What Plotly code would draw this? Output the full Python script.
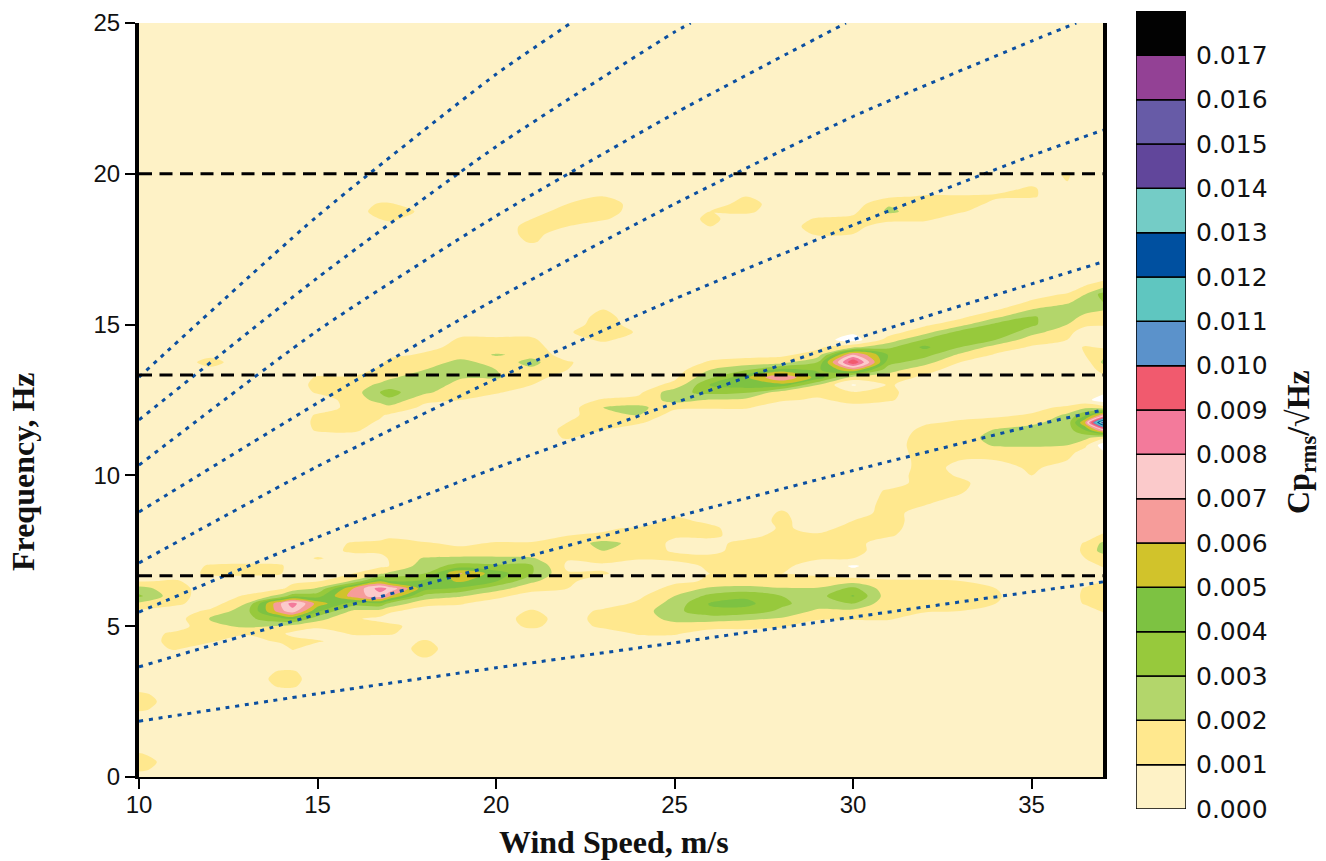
import plotly.graph_objects as go

# Frequency rows (Hz) and wind-speed columns (m/s) of the amplitude map
freq_rows = [i * 0.25 for i in range(85)] + [25.0]
background = 5  # amplitudes in units of 1e-4

# Readings per wind speed: (first frequency, values at 0.25 Hz spacing)
wind_cols = {
    10: [(0.25, [12, 15, 11]), (2.25, [12, 15, 12]), (5.5, [8, 18, 32, 24, 9])],
    11: [(4.25, [11, 13, 12]), (5.75, [12, 14, 14, 11])],
    12: [(4.5, [11, 14, 17, 21, 12]), (6.75, [12, 11]), (13.5, [8, 13, 8])],
    13: [(4.75, [11, 22, 27, 26, 20, 11]), (6.75, [12, 12])],
    14: [(3.0, [11, 13, 11]), (4.5, [12, 11, 19, 38, 68, 72, 24, 9]), (6.75, [10, 11])],
    14.3: [(3.0, [11, 13, 11]), (4.25, [11, 13, 8]), (5.0, [16, 42, 76, 85, 36, 13, 8])],
    15: [(4.5, [11]), (5.0, [12, 24, 42, 56, 36, 21, 9]), (7.25, [11]),
         (11.5, [11, 12, 11]), (12.75, [11, 13, 11])],
    16: [(4.75, [11, 12]), (5.25, [11, 18, 35, 65, 60, 21, 10]), (7.5, [12, 11]),
         (11.5, [12, 13, 12, 13, 14, 15, 15, 11])],
    16.75: [(4.75, [11, 13, 8]), (5.5, [16, 38, 75, 85, 48, 18, 8]), (7.5, [13, 13]),
            (11.75, [9, 11, 14, 24, 30, 22, 15, 12, 8]), (18.5, [10, 14, 11])],
    17: [(4.75, [11, 13]), (5.5, [12, 28, 62, 78, 40, 22, 10, 11, 14, 14, 8]),
         (12.0, [9, 17, 28, 34, 25, 18, 14, 12, 8]), (18.5, [12, 15, 11])],
    18: [(4.0, [11, 13, 11]), (5.75, [13, 27, 44, 42, 30, 25, 21, 11, 11]),
         (12.25, [8, 12, 22, 27, 26, 20, 13, 11, 8]), (18.75, [8])],
    19: [(5.75, [11, 21, 38, 52, 61, 34, 22, 13, 8]),
         (12.5, [10, 13, 16, 21, 25, 24, 14, 12, 11, 8])],
    20: [(6.0, [13, 24, 41, 45, 32, 22, 13, 11]),
         (12.75, [11, 14, 21, 20, 15, 21, 13, 11, 8])],
    21: [(5.0, [12, 14, 11]), (6.25, [14, 22, 31, 31, 21, 13, 11]),
         (13.0, [10, 14, 18, 23, 17, 13, 11, 8]), (17.75, [11, 13, 13, 10])],
    22: [(6.25, [10, 12, 11, 8, 11, 14, 13, 10]), (11.25, [11, 12, 10]),
         (13.5, [10, 11]), (14.75, [9]), (18.25, [10, 14, 15, 10])],
    23: [(5.0, [12, 14, 12]), (6.75, [11, 8, 14, 20, 24, 11, 9]),
         (11.5, [10, 14, 20, 20, 11]), (14.5, [12, 15, 15, 13, 10]),
         (18.5, [11, 15, 16, 10])],
    24: [(4.75, [11, 13, 15, 15, 12, 8]), (7.25, [11, 14, 16, 13, 11]),
         (11.75, [11, 20, 23, 13, 8]), (14.75, [9])],
    25: [(4.75, [11, 16, 23, 27, 24, 20, 13, 8]), (7.25, [13, 9, 8, 11, 13, 12, 8]),
         (12.25, [12, 24, 27, 13, 8])],
    26: [(5.0, [14, 24, 38, 41, 33, 22, 11, 10, 12, 12, 8, 8, 11, 12, 8]),
         (12.25, [11, 19, 33, 41, 28, 20, 11, 7]), (18.25, [10, 12, 10])],
    27: [(5.0, [13, 22, 36, 43, 38, 24, 12, 10, 13, 14, 13, 12, 8]),
         (12.25, [11, 17, 31, 46, 48, 29, 14, 7]), (18.75, [12, 14, 10])],
    28: [(5.0, [11, 19, 28, 32, 30, 21, 11, 10, 12, 13, 14, 13, 12, 11, 12, 11, 8]),
         (12.5, [11, 14, 46, 70, 44, 16, 8])],
    29: [(5.25, [11, 18, 25, 26, 21, 12, 9, 6, 11, 13, 13, 11, 8]),
         (12.5, [9, 12, 20, 46, 38, 30, 14, 8]), (18.0, [11, 14, 11])],
    30: [(5.25, [11, 17, 30, 41, 33, 15, 3, -1, 10, 13, 13, 13, 12, 10]),
         (12.25, [8, 12, 11, -1, 16, 58, 100, 72, 18, -5, 2]),
         (18.0, [10, 13, 12, 8])],
    31: [(5.25, [11, 12, 13, 14, 13, 11]), (8.0, [11, 13, 14, 14, 13, 12, 11]),
         (12.5, [11, 12, 11, 15, 24, 34, 39, 28, 14, 6]),
         (18.5, [13, 22, 19, 8])],
    32: [(5.5, [11, 13, 14, 13, 11]), (9.0, [10, 12, 13, 14, 14, 13, 13, 14, 15, 14, 12, 9]),
         (13.25, [8, 14, 24, 34, 42, 31, 16, 8]), (18.5, [12, 15, 14, 11])],
    33: [(5.5, [10, 12, 13, 12, 10]), (9.25, [9, 11, 12, 9, 8, 10, 14, 15, 15, 13, 11, 8]),
         (13.75, [10, 18, 30, 38, 34, 16, 8]), (18.75, [11, 14, 11])],
    34: [(5.75, [10, 11, 10]), (10.5, [10, 14, 21, 24, 21, 14, 8]),
         (14.0, [9, 15, 30, 38, 33, 18, 9]), (19.0, [8, 11, 8])],
    35: [(10.0, [10, 12, 13, 16, 21, 24, 24, 18, 11, 7]),
         (14.25, [9, 14, 24, 32, 31, 20, 11, 7]), (19.25, [11, 11, 8])],
    36: [(10.5, [10, 13, 20, 24, 25, 24, 22, 12, 2]),
         (14.5, [10, 13, 20, 25, 26, 18, 11]), (19.75, [10, 11])],
    36.5: [(5.75, [11, 12, 11]), (7.25, [10, 12, 11]), (10.75, [6, 12, 23, 40, 60, 38, 18, 3]),
           (14.0, [10, 11]), (15.0, [12, 17, 24, 26, 20, 11])],
    37: [(5.5, [11, 14, 15, 13, 10]), (7.0, [11, 14, 24, 22, 12]),
         (10.75, [2, -5, 12, 70, 150, 65, 14, -5, 2]), (13.25, [8, 13, 22, 17, 9]),
         (15.0, [11, 14, 21, 30, 34, 18, 8])],
}

# Guide curves: wind speed -> frequency
curve_1 = ([10, 15, 20, 25, 30, 35, 37], [1.85, 2.76, 3.62, 4.45, 5.3, 6.14, 6.47])
curve_2 = ([10, 15, 20, 25, 30, 35, 37], [3.65, 5.4, 7.03, 8.62, 10.16, 11.64, 12.17])
curve_3 = ([10, 15, 20, 25, 30, 35, 37], [5.47, 7.95, 10.25, 12.4, 14.5, 16.35, 17.08])
curve_4 = ([10, 15, 20, 25, 30, 35, 37], [7.1, 10.3, 13.2, 15.85, 18.3, 20.6, 21.45])
curve_5 = ([10, 15, 20, 25, 30, 35, 36.25], [8.79, 12.4, 15.85, 19.0, 21.9, 24.4, 25.0])
curve_6 = ([10, 15, 20, 25, 29.8], [10.34, 14.8, 18.6, 22.0, 25.0])
curve_7 = ([10, 15, 20, 25, 25.45], [11.84, 16.55, 20.9, 24.7, 25.0])
curve_8 = ([10, 15, 20, 22.1], [13.26, 18.6, 23.3, 25.0])
guide_curves = [curve_1, curve_2, curve_3, curve_4, curve_5, curve_6, curve_7, curve_8]

blade_freqs = [6.67, 13.33, 20.0]

level_colors = ["#FEF2C6", "#FFE88E", "#B3D66B", "#97C93C", "#7DC242", "#D1C32B",
                "#F69C9A", "#FBCACB", "#F37A9B", "#F15A6E", "#5B92CB", "#5FC6C0",
                "#0050A0", "#74CCC6", "#61469B", "#675BA7", "#934195", "#020202"]
level_edges = [i / 1000 for i in range(19)]
level_labels = [f"{e:.3f}" for e in level_edges[:18]]

# Assemble the amplitude matrix
wind_speeds = sorted(wind_cols)
row_index = {f: i for i, f in enumerate(freq_rows)}
amp = [[background * 1e-4 for _ in wind_speeds] for _ in freq_rows]
for c, w in enumerate(wind_speeds):
    for first, vals in wind_cols[w]:
        for k, v in enumerate(vals):
            amp[row_index[first + k * 0.25]][c] = v * 1e-4

# One stop per band: below-zero (white), the 18 levels, above-top
band_colors = ["#FFFFFF"] + level_colors + ["#020202"]
n = len(band_colors)
scale = [[i / (n - 1), col] for i, col in enumerate(band_colors)]

fig = go.Figure()
fig.add_trace(go.Contour(
    x=wind_speeds, y=freq_rows, z=amp, autocontour=False,
    contours=dict(start=0, end=0.018, size=0.001, coloring="fill", showlines=False),
    colorscale=scale, showscale=False, line=dict(width=0, smoothing=0.9),
    hoverinfo="skip", xaxis="x", yaxis="y",
))
for xs, ys in guide_curves:
    fig.add_trace(go.Scatter(x=xs, y=ys, mode="lines", showlegend=False, hoverinfo="skip",
                             line=dict(color="#0B4FA0", width=3, dash="4px,5.7px", shape="spline", smoothing=0.6),
                             xaxis="x", yaxis="y"))
for f in blade_freqs:
    fig.add_trace(go.Scatter(x=[10, 37], y=[f, f], mode="lines", showlegend=False, hoverinfo="skip",
                             line=dict(color="#000000", width=3, dash="13px,7.5px"),
                             xaxis="x", yaxis="y"))

# Colour key drawn as stacked bars on its own scale
fig.add_trace(go.Bar(
    x=[0] * 18, y=[0.001] * 18, base=level_edges[:18], width=1,
    marker=dict(color=level_colors, line=dict(color="#000000", width=1.5)),
    showlegend=False, hoverinfo="skip", xaxis="x2", yaxis="y2",
))

W, H = 1326, 861
L, R, T, B = 139, 1103, 23, 777
title_font = dict(family="Liberation Serif", size=32, color="#111111")
fig.update_layout(
    width=W, height=H, margin=dict(l=0, r=0, t=0, b=0, autoexpand=False),
    paper_bgcolor="white", plot_bgcolor="white", showlegend=False, barmode="overlay",
    font=dict(family="Liberation Sans", color="#111111"),
    xaxis=dict(domain=[L / W, R / W], range=[10, 37], tickvals=[10, 15, 20, 25, 30, 35],
               ticks="outside", ticklen=10, tickwidth=1.5, tickcolor="#000", showgrid=False,
               zeroline=False, showline=True, linecolor="#000", linewidth=1.5,
               ticklabelstandoff=-5, tickfont=dict(size=24), anchor="y"),
    yaxis=dict(domain=[1 - B / H, 1 - T / H], range=[0, 25], tickvals=[0, 5, 10, 15, 20, 25],
               ticks="outside", ticklen=10, tickwidth=1.5, tickcolor="#000", showgrid=False,
               zeroline=False, showline=True, linecolor="#000", linewidth=4, mirror=True,
               tickfont=dict(size=24), anchor="x"),
    xaxis2=dict(domain=[1136 / W, 1186 / W], range=[-0.5, 0.5], visible=False, anchor="y2"),
    yaxis2=dict(domain=[1 - 809 / H, 1 - 11 / H], range=[0, 0.018], side="right", anchor="x2",
                tickvals=level_edges[:18], ticktext=level_labels, ticks="", showgrid=False,
                zeroline=False, showline=False, ticklabelstandoff=9,
                tickfont=dict(family="DejaVu Sans", size=25)),
    annotations=[
        dict(text="<b>Wind Speed, m/s</b>", x=614 / W, y=1 - 842 / H, xref="paper", yref="paper",
             showarrow=False, font=title_font, xanchor="center", yanchor="middle"),
        dict(text="<b>Frequency, Hz</b>", x=23 / W, y=1 - 472 / H, xref="paper", yref="paper",
             showarrow=False, font=title_font, textangle=-90, xanchor="center", yanchor="middle"),
        dict(text="<b>Cp<sub>rms</sub>/√Hz</b>", x=1300 / W, y=1 - 442 / H, xref="paper", yref="paper",
             showarrow=False, font=title_font, textangle=-90, xanchor="center", yanchor="middle"),
    ],
)
fig.write_html("out.html", config={"displayModeBar": False},
               post_script="document.body.style.margin='0';")
